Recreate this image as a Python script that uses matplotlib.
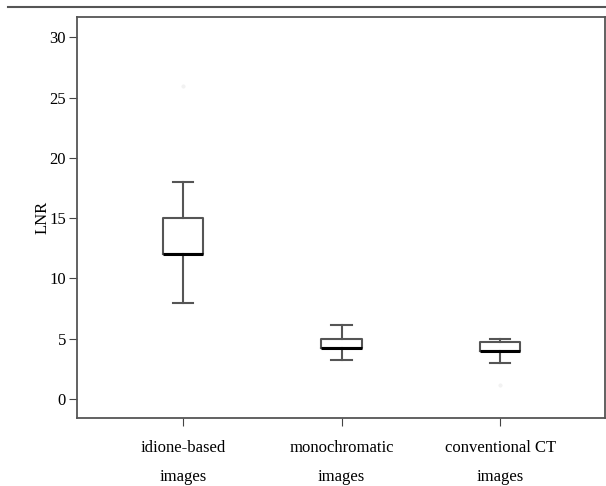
import matplotlib.pyplot as plt
from matplotlib.lines import Line2D

# box statistics
groups = ['idione-based\nimages', 'monochromatic\nimages', 'conventional CT\nimages']
whislo = [8.0, 3.2, 3.0]
q1 = [12.0, 4.2, 4.0]
med = [12.0, 4.2, 4.0]
q3 = [15.0, 5.0, 4.7]
whishi = [18.0, 6.1, 5.0]
fliers = [[26.0], [], [1.2]]
yticks = [0, 5, 10, 15, 20, 25, 30]

plt.rcParams['font.family'] = ['Liberation Serif', 'DejaVu Serif']

fig = plt.figure(figsize=(6.06, 4.86), dpi=100)
ax = fig.add_axes([77 / 606, 1 - 417.7 / 486, 528 / 606, 400.4 / 486])

stats = []
for i in range(len(groups)):
    stats.append({'whislo': whislo[i], 'q1': q1[i], 'med': med[i], 'q3': q3[i],
                  'whishi': whishi[i], 'fliers': fliers[i], 'label': groups[i]})

ax.bxp(stats, positions=[1, 2, 3], widths=0.255,
       boxprops=dict(color='#555555', linewidth=1.5),
       whiskerprops=dict(color='#555555', linewidth=1.5),
       capprops=dict(color='#555555', linewidth=1.5),
       medianprops=dict(color='black', linewidth=2.2),
       flierprops=dict(marker='o', markersize=2, markerfacecolor='#f2f2f2',
                       markeredgecolor='#f2f2f2'))

ax.set_xlim(0.331, 3.662)
ax.set_ylim(-1.55, 31.66)
ax.set_yticks(yticks)
ax.set_ylabel('LNR', fontsize=12, labelpad=-1)
ax.tick_params(axis='both', labelsize=12, length=6, color='#444444')
ax.tick_params(axis='y', pad=2)
ax.tick_params(axis='x', pad=10)
for lab in ax.get_xticklabels():
    lab.set_linespacing(2.05)
for s in ['left', 'top', 'bottom', 'right']:
    ax.spines[s].set_color('#555555')
    ax.spines[s].set_linewidth(1.3)

# separator rule above the chart
fig.add_artist(Line2D([8 / 606, 1.0], [1 - 7.3 / 486, 1 - 7.3 / 486],
                      color='#555555', linewidth=1.5))

fig.savefig('out.png', dpi=100)
